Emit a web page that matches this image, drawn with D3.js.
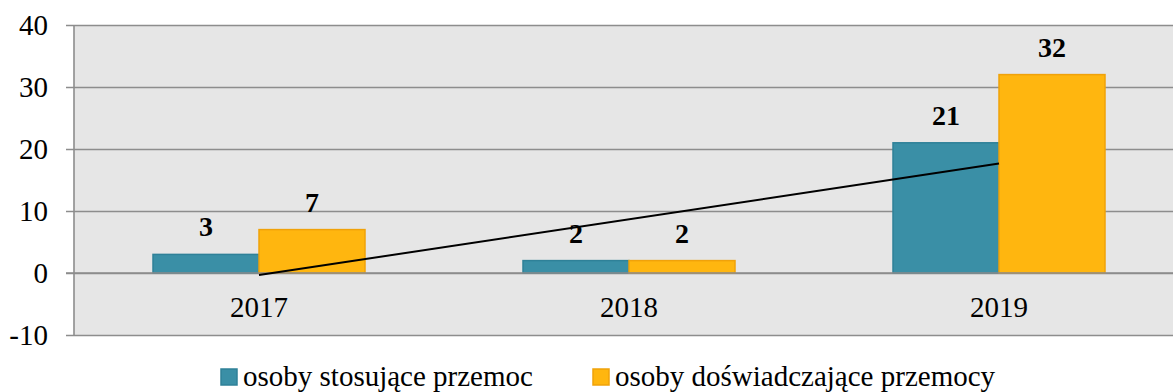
<!DOCTYPE html>
<html>
<head>
<meta charset="utf-8">
<script src="https://cdn.jsdelivr.net/npm/d3@7"></script>
<style>
  html, body { margin: 0; padding: 0; background: #ffffff; }
  svg { display: block; }
  text { font-family: "Liberation Serif", "Times New Roman", serif; }
</style>
</head>
<body>
<svg id="chart" width="1173" height="392"></svg>
<script>
// Chart data
const years = ["2017", "2018", "2019"];
const seriesNames = ["osoby stosujące przemoc", "osoby doświadczające przemocy"];
const perpetrators = [3, 2, 21];
const victims = [7, 2, 32];
const yTicks = [-10, 0, 10, 20, 30, 40];

const colors = ["#3a8fa6", "#ffb60f"];
const strokes = ["#2f8198", "#f0a20a"];

const svg = d3.select("#chart");
const W = 1173, H = 392;
const plot = { left: 74, right: 1184, top: 25, bottom: 335 };

const x = d3.scaleBand().domain(years).range([plot.left, plot.right]).paddingInner(0).paddingOuter(0);
const y = d3.scaleLinear().domain([-10, 40]).range([plot.bottom, plot.top]);

// plot background
svg.append("rect")
  .attr("x", plot.left).attr("y", plot.top)
  .attr("width", W - plot.left).attr("height", plot.bottom - plot.top)
  .attr("fill", "#e6e6e6");

// gridlines + ticks
const yAxis = d3.axisLeft(y).tickValues(yTicks).tickSize(-(W - plot.left)).tickFormat(d => d);
const gY = svg.append("g").attr("transform", `translate(${plot.left},0)`).call(yAxis);
gY.select(".domain").remove();
gY.selectAll(".tick line").attr("stroke", "#8d8d8d").attr("stroke-width", 1.6)
  .attr("x1", -8);
gY.selectAll(".tick text").attr("x", -26).attr("font-size", 29).attr("fill", "#000")
  .style("font-family", "Liberation Serif, Times New Roman, serif");

// left axis line
svg.append("line")
  .attr("x1", plot.left).attr("x2", plot.left)
  .attr("y1", plot.top).attr("y2", plot.bottom)
  .attr("stroke", "#8d8d8d").attr("stroke-width", 1.6);

// bars
const groups = [perpetrators, victims];
const barW = 106;
groups.forEach((vals, si) => {
  svg.append("g").selectAll("rect")
    .data(vals)
    .join("rect")
    .attr("x", (d, i) => x(years[i]) + x.bandwidth() / 2 + (si === 0 ? -barW : 0))
    .attr("y", d => y(Math.max(0, d)))
    .attr("width", barW)
    .attr("height", d => Math.abs(y(d) - y(0)))
    .attr("fill", colors[si])
    .attr("stroke", strokes[si])
    .attr("stroke-width", 1.5);

  svg.append("g").selectAll("text")
    .data(vals)
    .join("text")
    .attr("x", (d, i) => x(years[i]) + x.bandwidth() / 2 + (si === 0 ? -barW / 2 : barW / 2))
    .attr("y", d => y(d) - 18)
    .attr("text-anchor", "middle")
    .attr("font-size", 28)
    .attr("font-weight", "bold")
    .text(d => d);
});

// zero line drawn over the bar bottoms
svg.append("line")
  .attr("x1", plot.left - 8).attr("x2", W)
  .attr("y1", y(0)).attr("y2", y(0))
  .attr("stroke", "#8d8d8d").attr("stroke-width", 1.6);

// category labels
svg.append("g").selectAll("text")
  .data(years)
  .join("text")
  .attr("x", d => x(d) + x.bandwidth() / 2)
  .attr("y", y(0) + 44)
  .attr("text-anchor", "middle")
  .attr("font-size", 29)
  .text(d => d);

// linear trend of the first series
const n = perpetrators.length;
const xs = d3.range(1, n + 1);
const mx = d3.mean(xs), my = d3.mean(perpetrators);
const slope = d3.sum(xs.map((v, i) => (v - mx) * (perpetrators[i] - my))) / d3.sum(xs.map(v => (v - mx) ** 2));
const icpt = my - slope * mx;
svg.append("line")
  .attr("x1", x(years[0]) + x.bandwidth() / 2)
  .attr("y1", y(icpt + slope * 1))
  .attr("x2", x(years[n - 1]) + x.bandwidth() / 2)
  .attr("y2", y(icpt + slope * n))
  .attr("stroke", "#000").attr("stroke-width", 2);

// legend
const legend = [
  { name: seriesNames[0], x: 221 },
  { name: seriesNames[1], x: 593 }
];
legend.forEach((l, i) => {
  svg.append("rect")
    .attr("x", l.x).attr("y", 369).attr("width", 16).attr("height", 16)
    .attr("fill", colors[i]).attr("stroke", strokes[i]).attr("stroke-width", 1.5);
  svg.append("text")
    .attr("x", l.x + 22).attr("y", 386)
    .attr("font-size", 29)
    .text(l.name);
});
</script>
</body>
</html>
